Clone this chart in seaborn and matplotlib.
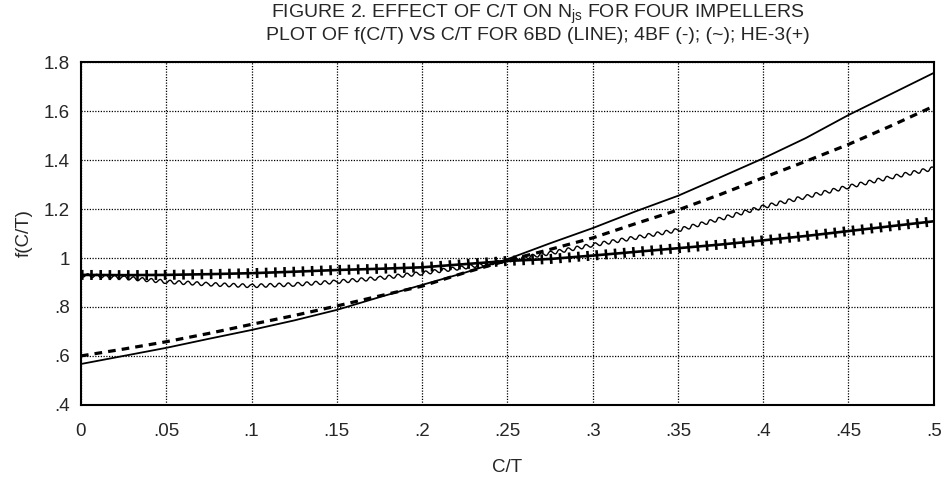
import pandas as pd
import matplotlib.pyplot as plt
import seaborn as sns

# data
ct = [0.0, 0.025, 0.05, 0.075, 0.1, 0.125, 0.15, 0.175, 0.2, 0.225, 0.25,
      0.275, 0.3, 0.325, 0.35, 0.375, 0.4, 0.425, 0.45, 0.475, 0.5]
f_6bd = [0.567, 0.600, 0.633, 0.670, 0.706, 0.745, 0.788, 0.840, 0.890, 0.940, 0.995,
         1.060, 1.122, 1.190, 1.254, 1.330, 1.407, 1.490, 1.584, 1.670, 1.756]
f_4bf = [0.600, 0.628, 0.658, 0.692, 0.729, 0.765, 0.804, 0.845, 0.885, 0.940, 0.990,
         1.035, 1.082, 1.140, 1.196, 1.260, 1.328, 1.395, 1.464, 1.540, 1.620]
f_wave = [0.930, 0.920, 0.903, 0.893, 0.886, 0.892, 0.903, 0.918, 0.938, 0.962, 0.990,
          1.020, 1.053, 1.083, 1.114, 1.160, 1.209, 1.250, 1.291, 1.330, 1.366]
f_he3 = [0.931, 0.930, 0.931, 0.934, 0.938, 0.944, 0.951, 0.956, 0.962, 0.975, 0.988,
         0.996, 1.010, 1.025, 1.040, 1.055, 1.072, 1.090, 1.110, 1.130, 1.150]

x_ticks = [0, 0.05, 0.1, 0.15, 0.2, 0.25, 0.3, 0.35, 0.4, 0.45, 0.5]
x_labels = ["0", ".05", ".1", ".15", ".2", ".25", ".3", ".35", ".4", ".45", ".5"]
y_ticks = [0.4, 0.6, 0.8, 1.0, 1.2, 1.4, 1.6, 1.8]
y_labels = [".4", ".6", ".8", "1", "1.2", "1.4", "1.6", "1.8"]

df = pd.DataFrame({"ct": ct, "6BD": f_6bd, "4BF": f_4bf, "wave": f_wave, "HE-3": f_he3})

sns.set_style("white")
plt.rcParams["font.family"] = ["Liberation Sans", "DejaVu Sans"]

fig = plt.figure(figsize=(9.46, 4.82), dpi=100)
ax = fig.add_axes([0.0856, 0.160, 0.9014, 0.711])

# 6BD - plain line
sns.lineplot(data=df, x="ct", y="6BD", ax=ax, color="black", lw=1.3)
# 4BF - dashed
sns.lineplot(data=df, x="ct", y="4BF", ax=ax, color="black", lw=2.3,
             linestyle=(0, (2.4, 1.9)))
# (~) - wavy
wave = sns.lineplot(data=df, x="ct", y="wave", ax=ax, color="black", lw=1.0).lines[-1]
wave.set_sketch_params(scale=1.8, length=9, randomness=1)
# HE-3 - line with cross ticks
sns.lineplot(data=df, x="ct", y="HE-3", ax=ax, color="black", lw=1.9)
sns.lineplot(data=df, x="ct", y="HE-3", ax=ax, color="black", lw=7.2,
             linestyle=(0, (0.26, 0.66)), dash_capstyle="butt")

ax.set_xlim(0, 0.5)
ax.set_ylim(0.4, 1.8)
ax.set_xticks(x_ticks)
ax.set_xticklabels(x_labels, fontsize=13.5)
ax.set_yticks(y_ticks)
ax.set_yticklabels(y_labels, fontsize=13.5)
ax.tick_params(length=0, pad=13)
ax.tick_params(axis="y", pad=8)
ax.grid(True, color="black", linestyle=(0, (1, 1.2)), lw=0.9)
for s in ax.spines.values():
    s.set_color("black")
    s.set_linewidth(1.5)

ax.set_xlabel("C/T", fontsize=13.5, labelpad=14)
ax.set_ylabel("f(C/T)", fontsize=13.5, labelpad=8)

fig.text(0.569, 0.970, r"FIGURE 2. EFFECT OF C/T ON $\mathregular{N_{js}}$ FOR FOUR IMPELLERS",
         ha="center", va="center", fontsize=14)
fig.text(0.569, 0.926, "PLOT OF f(C/T) VS C/T FOR 6BD (LINE); 4BF (-); (~); HE-3(+)",
         ha="center", va="center", fontsize=14)

plt.savefig("out.png", dpi=100)
plt.close()
